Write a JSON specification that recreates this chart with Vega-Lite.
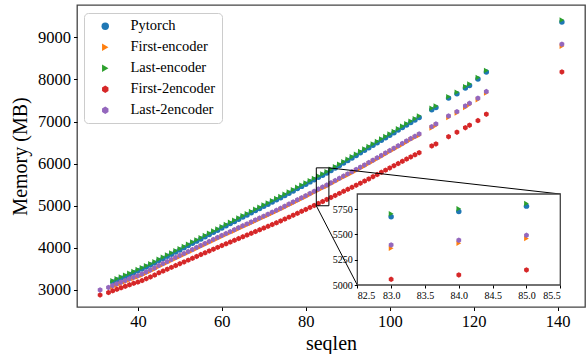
{
  "$schema": "https://vega.github.io/schema/vega-lite/v6.json",
  "autosize": {"type": "none"},
  "width": 508,
  "height": 302,
  "padding": {"left": 77, "top": 5, "right": 2, "bottom": 47},
  "background": "white",
  "config": {
    "font": "Liberation Serif",
    "view": {"stroke": "#444", "strokeWidth": 1.3},
    "style": {"guide-label": {"font": "Liberation Serif"}, "guide-title": {"font": "Liberation Serif"}},
    "axis": {"grid": false, "domain": false, "tickColor": "#000", "labelColor": "#000", "titleColor": "#000", "titleFontWeight": "normal", "labelFont": "Liberation Serif", "titleFont": "Liberation Serif"}
  },
  "datasets": {
    "mem": [
      {"seqlen": 31, "First-2encoder": 2881, "Last-2encoder": 3000},
      {"seqlen": 33, "First-2encoder": 2940, "Last-2encoder": 3060},
      {"seqlen": 34, "Pytorch": 3191, "First-encoder": 3075, "Last-encoder": 3221, "First-2encoder": 2980, "Last-2encoder": 3105},
      {"seqlen": 35, "Pytorch": 3235, "First-encoder": 3115, "Last-encoder": 3265, "First-2encoder": 3016, "Last-2encoder": 3145},
      {"seqlen": 36, "Pytorch": 3279, "First-encoder": 3155, "Last-encoder": 3309, "First-2encoder": 3051, "Last-2encoder": 3185},
      {"seqlen": 37, "Pytorch": 3323, "First-encoder": 3195, "Last-encoder": 3353, "First-2encoder": 3087, "Last-2encoder": 3225},
      {"seqlen": 38, "Pytorch": 3367, "First-encoder": 3235, "Last-encoder": 3397, "First-2encoder": 3122, "Last-2encoder": 3265},
      {"seqlen": 39, "Pytorch": 3411, "First-encoder": 3275, "Last-encoder": 3441, "First-2encoder": 3158, "Last-2encoder": 3305},
      {"seqlen": 40, "Pytorch": 3455, "First-encoder": 3310, "Last-encoder": 3485, "First-2encoder": 3189, "Last-2encoder": 3340},
      {"seqlen": 41, "Pytorch": 3499, "First-encoder": 3350, "Last-encoder": 3529, "First-2encoder": 3224, "Last-2encoder": 3380},
      {"seqlen": 42, "Pytorch": 3545, "First-encoder": 3398, "Last-encoder": 3575, "First-2encoder": 3268, "Last-2encoder": 3428},
      {"seqlen": 43, "Pytorch": 3592, "First-encoder": 3446, "Last-encoder": 3622, "First-2encoder": 3311, "Last-2encoder": 3476},
      {"seqlen": 44, "Pytorch": 3638, "First-encoder": 3494, "Last-encoder": 3668, "First-2encoder": 3355, "Last-2encoder": 3524},
      {"seqlen": 45, "Pytorch": 3700, "First-encoder": 3550, "Last-encoder": 3730, "First-2encoder": 3407, "Last-2encoder": 3580},
      {"seqlen": 46, "Pytorch": 3750, "First-encoder": 3598, "Last-encoder": 3780, "First-2encoder": 3450, "Last-2encoder": 3628},
      {"seqlen": 47, "Pytorch": 3800, "First-encoder": 3646, "Last-encoder": 3830, "First-2encoder": 3494, "Last-2encoder": 3676},
      {"seqlen": 48, "Pytorch": 3850, "First-encoder": 3694, "Last-encoder": 3880, "First-2encoder": 3537, "Last-2encoder": 3724},
      {"seqlen": 49, "Pytorch": 3900, "First-encoder": 3742, "Last-encoder": 3930, "First-2encoder": 3581, "Last-2encoder": 3772},
      {"seqlen": 50, "Pytorch": 3952, "First-encoder": 3790, "Last-encoder": 3982, "First-2encoder": 3625, "Last-2encoder": 3820},
      {"seqlen": 51, "Pytorch": 4004, "First-encoder": 3835, "Last-encoder": 4034, "First-2encoder": 3665, "Last-2encoder": 3865},
      {"seqlen": 52, "Pytorch": 4056, "First-encoder": 3883, "Last-encoder": 4086, "First-2encoder": 3709, "Last-2encoder": 3913},
      {"seqlen": 53, "Pytorch": 4108, "First-encoder": 3931, "Last-encoder": 4138, "First-2encoder": 3752, "Last-2encoder": 3961},
      {"seqlen": 54, "Pytorch": 4160, "First-encoder": 3979, "Last-encoder": 4190, "First-2encoder": 3796, "Last-2encoder": 4009},
      {"seqlen": 55, "Pytorch": 4212, "First-encoder": 4027, "Last-encoder": 4242, "First-2encoder": 3840, "Last-2encoder": 4057},
      {"seqlen": 56, "Pytorch": 4264, "First-encoder": 4075, "Last-encoder": 4294, "First-2encoder": 3883, "Last-2encoder": 4105},
      {"seqlen": 57, "Pytorch": 4316, "First-encoder": 4123, "Last-encoder": 4346, "First-2encoder": 3927, "Last-2encoder": 4153},
      {"seqlen": 58, "Pytorch": 4368, "First-encoder": 4170, "Last-encoder": 4398, "First-2encoder": 3969, "Last-2encoder": 4200},
      {"seqlen": 59, "Pytorch": 4420, "First-encoder": 4217, "Last-encoder": 4450, "First-2encoder": 4012, "Last-2encoder": 4247},
      {"seqlen": 60, "Pytorch": 4472, "First-encoder": 4264, "Last-encoder": 4502, "First-2encoder": 4055, "Last-2encoder": 4294},
      {"seqlen": 61, "Pytorch": 4524, "First-encoder": 4310, "Last-encoder": 4554, "First-2encoder": 4096, "Last-2encoder": 4340},
      {"seqlen": 62, "Pytorch": 4576, "First-encoder": 4356, "Last-encoder": 4606, "First-2encoder": 4138, "Last-2encoder": 4386},
      {"seqlen": 63, "Pytorch": 4628, "First-encoder": 4402, "Last-encoder": 4658, "First-2encoder": 4179, "Last-2encoder": 4432},
      {"seqlen": 64, "Pytorch": 4680, "First-encoder": 4448, "Last-encoder": 4710, "First-2encoder": 4221, "Last-2encoder": 4478},
      {"seqlen": 65, "Pytorch": 4732, "First-encoder": 4494, "Last-encoder": 4762, "First-2encoder": 4263, "Last-2encoder": 4524},
      {"seqlen": 66, "Pytorch": 4783, "First-encoder": 4540, "Last-encoder": 4813, "First-2encoder": 4304, "Last-2encoder": 4570},
      {"seqlen": 67, "Pytorch": 4834, "First-encoder": 4586, "Last-encoder": 4864, "First-2encoder": 4346, "Last-2encoder": 4616},
      {"seqlen": 68, "Pytorch": 4885, "First-encoder": 4632, "Last-encoder": 4915, "First-2encoder": 4387, "Last-2encoder": 4662},
      {"seqlen": 69, "Pytorch": 4936, "First-encoder": 4678, "Last-encoder": 4966, "First-2encoder": 4429, "Last-2encoder": 4708},
      {"seqlen": 70, "Pytorch": 4987, "First-encoder": 4724, "Last-encoder": 5017, "First-2encoder": 4471, "Last-2encoder": 4754},
      {"seqlen": 71, "Pytorch": 5038, "First-encoder": 4770, "Last-encoder": 5068, "First-2encoder": 4512, "Last-2encoder": 4800},
      {"seqlen": 72, "Pytorch": 5089, "First-encoder": 4816, "Last-encoder": 5119, "First-2encoder": 4554, "Last-2encoder": 4846},
      {"seqlen": 73, "Pytorch": 5140, "First-encoder": 4863, "Last-encoder": 5170, "First-2encoder": 4596, "Last-2encoder": 4893},
      {"seqlen": 74, "Pytorch": 5191, "First-encoder": 4910, "Last-encoder": 5221, "First-2encoder": 4639, "Last-2encoder": 4940},
      {"seqlen": 75, "Pytorch": 5245, "First-encoder": 4960, "Last-encoder": 5275, "First-2encoder": 4685, "Last-2encoder": 4990},
      {"seqlen": 76, "Pytorch": 5299, "First-encoder": 5010, "Last-encoder": 5329, "First-2encoder": 4730, "Last-2encoder": 5040},
      {"seqlen": 77, "Pytorch": 5353, "First-encoder": 5060, "Last-encoder": 5383, "First-2encoder": 4776, "Last-2encoder": 5090},
      {"seqlen": 78, "Pytorch": 5407, "First-encoder": 5110, "Last-encoder": 5437, "First-2encoder": 4821, "Last-2encoder": 5140},
      {"seqlen": 79, "Pytorch": 5460, "First-encoder": 5160, "Last-encoder": 5490, "First-2encoder": 4867, "Last-2encoder": 5190},
      {"seqlen": 80, "Pytorch": 5513, "First-encoder": 5210, "Last-encoder": 5543, "First-2encoder": 4913, "Last-2encoder": 5240},
      {"seqlen": 81, "Pytorch": 5567, "First-encoder": 5262, "Last-encoder": 5597, "First-2encoder": 4960, "Last-2encoder": 5292},
      {"seqlen": 82, "Pytorch": 5620, "First-encoder": 5314, "Last-encoder": 5650, "First-2encoder": 5008, "Last-2encoder": 5344},
      {"seqlen": 83, "Pytorch": 5674, "First-encoder": 5363, "Last-encoder": 5704, "First-2encoder": 5056, "Last-2encoder": 5396},
      {"seqlen": 84, "Pytorch": 5727, "First-encoder": 5413, "Last-encoder": 5753, "First-2encoder": 5099, "Last-2encoder": 5443},
      {"seqlen": 85, "Pytorch": 5780, "First-encoder": 5459, "Last-encoder": 5806, "First-2encoder": 5149, "Last-2encoder": 5492},
      {"seqlen": 86, "Pytorch": 5836, "First-encoder": 5515, "Last-encoder": 5866, "First-2encoder": 5197, "Last-2encoder": 5545},
      {"seqlen": 87, "Pytorch": 5896, "First-encoder": 5568, "Last-encoder": 5926, "First-2encoder": 5246, "Last-2encoder": 5598},
      {"seqlen": 88, "Pytorch": 5956, "First-encoder": 5621, "Last-encoder": 5986, "First-2encoder": 5294, "Last-2encoder": 5651},
      {"seqlen": 89, "Pytorch": 6016, "First-encoder": 5674, "Last-encoder": 6046, "First-2encoder": 5342, "Last-2encoder": 5704},
      {"seqlen": 90, "Pytorch": 6076, "First-encoder": 5727, "Last-encoder": 6106, "First-2encoder": 5391, "Last-2encoder": 5757},
      {"seqlen": 91, "Pytorch": 6136, "First-encoder": 5780, "Last-encoder": 6166, "First-2encoder": 5439, "Last-2encoder": 5810},
      {"seqlen": 92, "Pytorch": 6196, "First-encoder": 5833, "Last-encoder": 6226, "First-2encoder": 5488, "Last-2encoder": 5863},
      {"seqlen": 93, "Pytorch": 6256, "First-encoder": 5886, "Last-encoder": 6286, "First-2encoder": 5536, "Last-2encoder": 5916},
      {"seqlen": 94, "Pytorch": 6316, "First-encoder": 5940, "Last-encoder": 6346, "First-2encoder": 5586, "Last-2encoder": 5970},
      {"seqlen": 95, "Pytorch": 6376, "First-encoder": 5995, "Last-encoder": 6406, "First-2encoder": 5636, "Last-2encoder": 6025},
      {"seqlen": 96, "Pytorch": 6436, "First-encoder": 6052, "Last-encoder": 6466, "First-2encoder": 5689, "Last-2encoder": 6082},
      {"seqlen": 97, "Pytorch": 6496, "First-encoder": 6109, "Last-encoder": 6526, "First-2encoder": 5741, "Last-2encoder": 6139},
      {"seqlen": 98, "Pytorch": 6556, "First-encoder": 6166, "Last-encoder": 6586, "First-2encoder": 5793, "Last-2encoder": 6196},
      {"seqlen": 99, "Pytorch": 6616, "First-encoder": 6223, "Last-encoder": 6646, "First-2encoder": 5846, "Last-2encoder": 6253},
      {"seqlen": 100, "Pytorch": 6676, "First-encoder": 6280, "Last-encoder": 6706, "First-2encoder": 5898, "Last-2encoder": 6310},
      {"seqlen": 101, "Pytorch": 6736, "First-encoder": 6337, "Last-encoder": 6766, "First-2encoder": 5951, "Last-2encoder": 6367},
      {"seqlen": 102, "Pytorch": 6796, "First-encoder": 6394, "Last-encoder": 6826, "First-2encoder": 6003, "Last-2encoder": 6424},
      {"seqlen": 103, "Pytorch": 6856, "First-encoder": 6451, "Last-encoder": 6886, "First-2encoder": 6055, "Last-2encoder": 6481},
      {"seqlen": 104, "Pytorch": 6916, "First-encoder": 6508, "Last-encoder": 6946, "First-2encoder": 6108, "Last-2encoder": 6538},
      {"seqlen": 105, "Pytorch": 6976, "First-encoder": 6565, "Last-encoder": 7006, "First-2encoder": 6160, "Last-2encoder": 6595},
      {"seqlen": 106, "Pytorch": 7038, "First-encoder": 6620, "Last-encoder": 7068, "First-2encoder": 6211, "Last-2encoder": 6650},
      {"seqlen": 107, "Pytorch": 7097, "First-encoder": 6670, "Last-encoder": 7130, "First-2encoder": 6261, "Last-2encoder": 6705},
      {"seqlen": 110, "Pytorch": 7281, "First-encoder": 6844, "Last-encoder": 7316, "First-2encoder": 6420, "Last-2encoder": 6879},
      {"seqlen": 111, "Pytorch": 7335, "First-encoder": 6908, "Last-encoder": 7370, "First-2encoder": 6468, "Last-2encoder": 6943},
      {"seqlen": 114, "Pytorch": 7556, "First-encoder": 7098, "Last-encoder": 7591, "First-2encoder": 6641, "Last-2encoder": 7133},
      {"seqlen": 116, "Pytorch": 7660, "First-encoder": 7200, "Last-encoder": 7695, "First-2encoder": 6746, "Last-2encoder": 7235},
      {"seqlen": 118, "Pytorch": 7794, "First-encoder": 7335, "Last-encoder": 7829, "First-2encoder": 6855, "Last-2encoder": 7370},
      {"seqlen": 119, "Pytorch": 7858, "First-encoder": 7399, "Last-encoder": 7893, "First-2encoder": 6912, "Last-2encoder": 7434},
      {"seqlen": 121, "Pytorch": 8008, "First-encoder": 7518, "Last-encoder": 8043, "First-2encoder": 7022, "Last-2encoder": 7553},
      {"seqlen": 123, "Pytorch": 8174, "First-encoder": 7677, "Last-encoder": 8209, "First-2encoder": 7173, "Last-2encoder": 7712},
      {"seqlen": 141, "Pytorch": 9365, "First-encoder": 8785, "Last-encoder": 9413, "First-2encoder": 8178, "Last-2encoder": 8836}
    ],
    "box": [{"x0": 82.5, "x1": 85.5, "y0": 5000, "y1": 5900}],
    "links": [
      {"xa": 85.5, "ya": 5900, "xb": 140.61, "yb": 5279},
      {"xa": 82.5, "ya": 5000, "xb": 92.26, "yb": 3118}
    ]
  },
  "layer": [
    {
      "data": {"name": "mem"},
      "transform": [
        {"fold": ["Pytorch", "First-encoder", "Last-encoder", "First-2encoder", "Last-2encoder"], "as": ["model", "mem"]},
        {"filter": "isValid(datum.mem)"}
      ],
      "mark": {"type": "point", "filled": true, "size": 30, "opacity": 1, "strokeWidth": 0},
      "encoding": {
        "x": {"field": "seqlen", "type": "quantitative", "scale": {"domain": [25.5, 146.5], "nice": false, "zero": false},
              "axis": {"title": "seqlen", "orient": "bottom", "values": [40, 60, 80, 100, 120, 140], "labelFont": "Liberation Serif", "titleFont": "Liberation Serif", "labelFontSize": 16.5, "titleFontSize": 20, "tickSize": 3.5, "labelPadding": 3, "titlePadding": 3}},
        "y": {"field": "mem", "type": "quantitative", "scale": {"domain": [2596, 9767], "nice": false, "zero": false},
              "axis": {"title": "Memory (MB)", "orient": "left", "values": [3000, 4000, 5000, 6000, 7000, 8000, 9000], "format": "d", "labelFont": "Liberation Serif", "titleFont": "Liberation Serif", "labelFontSize": 16.5, "titleFontSize": 20, "tickSize": 3.5, "labelPadding": 3, "titlePadding": 7}},
        "color": {"field": "model", "type": "nominal",
                  "scale": {"domain": ["Pytorch", "First-encoder", "Last-encoder", "First-2encoder", "Last-2encoder"], "range": ["#1f77b4", "#ff7f0e", "#2ca02c", "#d62728", "#9467bd"]},
                  "legend": {"title": null, "orient": "none", "legendX": 7, "legendY": 8, "labelFontSize": 14.5, "labelFont": "Liberation Serif", "labelColor": "#000", "symbolSize": 55, "rowPadding": 6, "padding": 6, "strokeColor": "#cccccc", "cornerRadius": 4, "fillColor": "#ffffff", "symbolOffset": 8, "labelOffset": 18, "symbolStrokeWidth": 0}},
        "shape": {"field": "model", "type": "nominal",
                  "scale": {"domain": ["Pytorch", "First-encoder", "Last-encoder", "First-2encoder", "Last-2encoder"], "range": ["circle", "triangle-right", "triangle-right", "M0,-1L0.866,-0.5L0.866,0.5L0,1L-0.866,0.5L-0.866,-0.5Z", "M0,-1L0.866,-0.5L0.866,0.5L0,1L-0.866,0.5L-0.866,-0.5Z"]},
                  "legend": {"title": null, "orient": "none", "legendX": 7, "legendY": 8, "labelFontSize": 14.5, "labelFont": "Liberation Serif", "labelColor": "#000", "symbolSize": 55, "rowPadding": 6, "padding": 6, "strokeColor": "#cccccc", "cornerRadius": 4, "fillColor": "#ffffff", "symbolOffset": 8, "labelOffset": 18, "symbolStrokeWidth": 0}}
      }
    },
    {
      "data": {"name": "box"},
      "mark": {"type": "rect", "fill": null, "fillOpacity": 0, "stroke": "#000", "strokeWidth": 1},
      "encoding": {
        "x": {"field": "x0", "type": "quantitative", "scale": {"domain": [25.5, 146.5], "nice": false, "zero": false}, "axis": null},
        "x2": {"field": "x1"},
        "y": {"field": "y0", "type": "quantitative", "scale": {"domain": [2596, 9767], "nice": false, "zero": false}, "axis": null},
        "y2": {"field": "y1"}
      }
    },
    {
      "data": {"name": "links"},
      "mark": {"type": "rule", "stroke": "#000", "strokeWidth": 1},
      "encoding": {
        "x": {"field": "xa", "type": "quantitative", "scale": {"domain": [25.5, 146.5], "nice": false, "zero": false}, "axis": null},
        "y": {"field": "ya", "type": "quantitative", "scale": {"domain": [2596, 9767], "nice": false, "zero": false}, "axis": null},
        "x2": {"field": "xb"},
        "y2": {"field": "yb"}
      }
    },
    {
      "data": {"name": "box"},
      "mark": {"type": "rect", "fill": "#ffffff", "stroke": "#444", "strokeWidth": 1.3},
      "encoding": {
        "x": {"field": "x0", "type": "quantitative", "scale": {"domain": [82.5, 85.5], "range": [280.3, 483.3], "nice": false, "zero": false},
              "axis": {"title": null, "orient": "bottom", "offset": -22, "values": [82.5, 83, 83.5, 84, 84.5, 85, 85.5], "format": ".1f", "labelFont": "Liberation Serif", "labelFontSize": 10, "tickSize": 3, "labelPadding": 2, "zindex": 1}},
        "x2": {"field": "x1"},
        "y": {"field": "y0", "type": "quantitative", "scale": {"domain": [5000, 5900], "range": [280, 189], "nice": false, "zero": false},
              "axis": {"title": null, "orient": "left", "offset": -280.3, "values": [5000, 5250, 5500, 5750], "format": "d", "labelFont": "Liberation Serif", "labelFontSize": 10, "tickSize": 3, "labelPadding": 2, "zindex": 1}},
        "y2": {"field": "y1"}
      }
    },
    {
      "data": {"name": "mem"},
      "transform": [
        {"fold": ["Pytorch", "First-encoder", "Last-encoder", "First-2encoder", "Last-2encoder"], "as": ["model", "mem"]},
        {"filter": "isValid(datum.mem) && datum.seqlen >= 82.5 && datum.seqlen <= 85.5"}
      ],
      "mark": {"type": "point", "filled": true, "size": 30, "opacity": 1, "strokeWidth": 0},
      "encoding": {
        "x": {"field": "seqlen", "type": "quantitative", "scale": {"domain": [82.5, 85.5], "range": [280.3, 483.3], "nice": false, "zero": false}, "axis": null},
        "y": {"field": "mem", "type": "quantitative", "scale": {"domain": [5000, 5900], "range": [280, 189], "nice": false, "zero": false}, "axis": null},
        "color": {"field": "model", "type": "nominal", "legend": null},
        "shape": {"field": "model", "type": "nominal", "legend": null}
      }
    }
  ],
  "resolve": {"scale": {"x": "independent", "y": "independent"}}
}
